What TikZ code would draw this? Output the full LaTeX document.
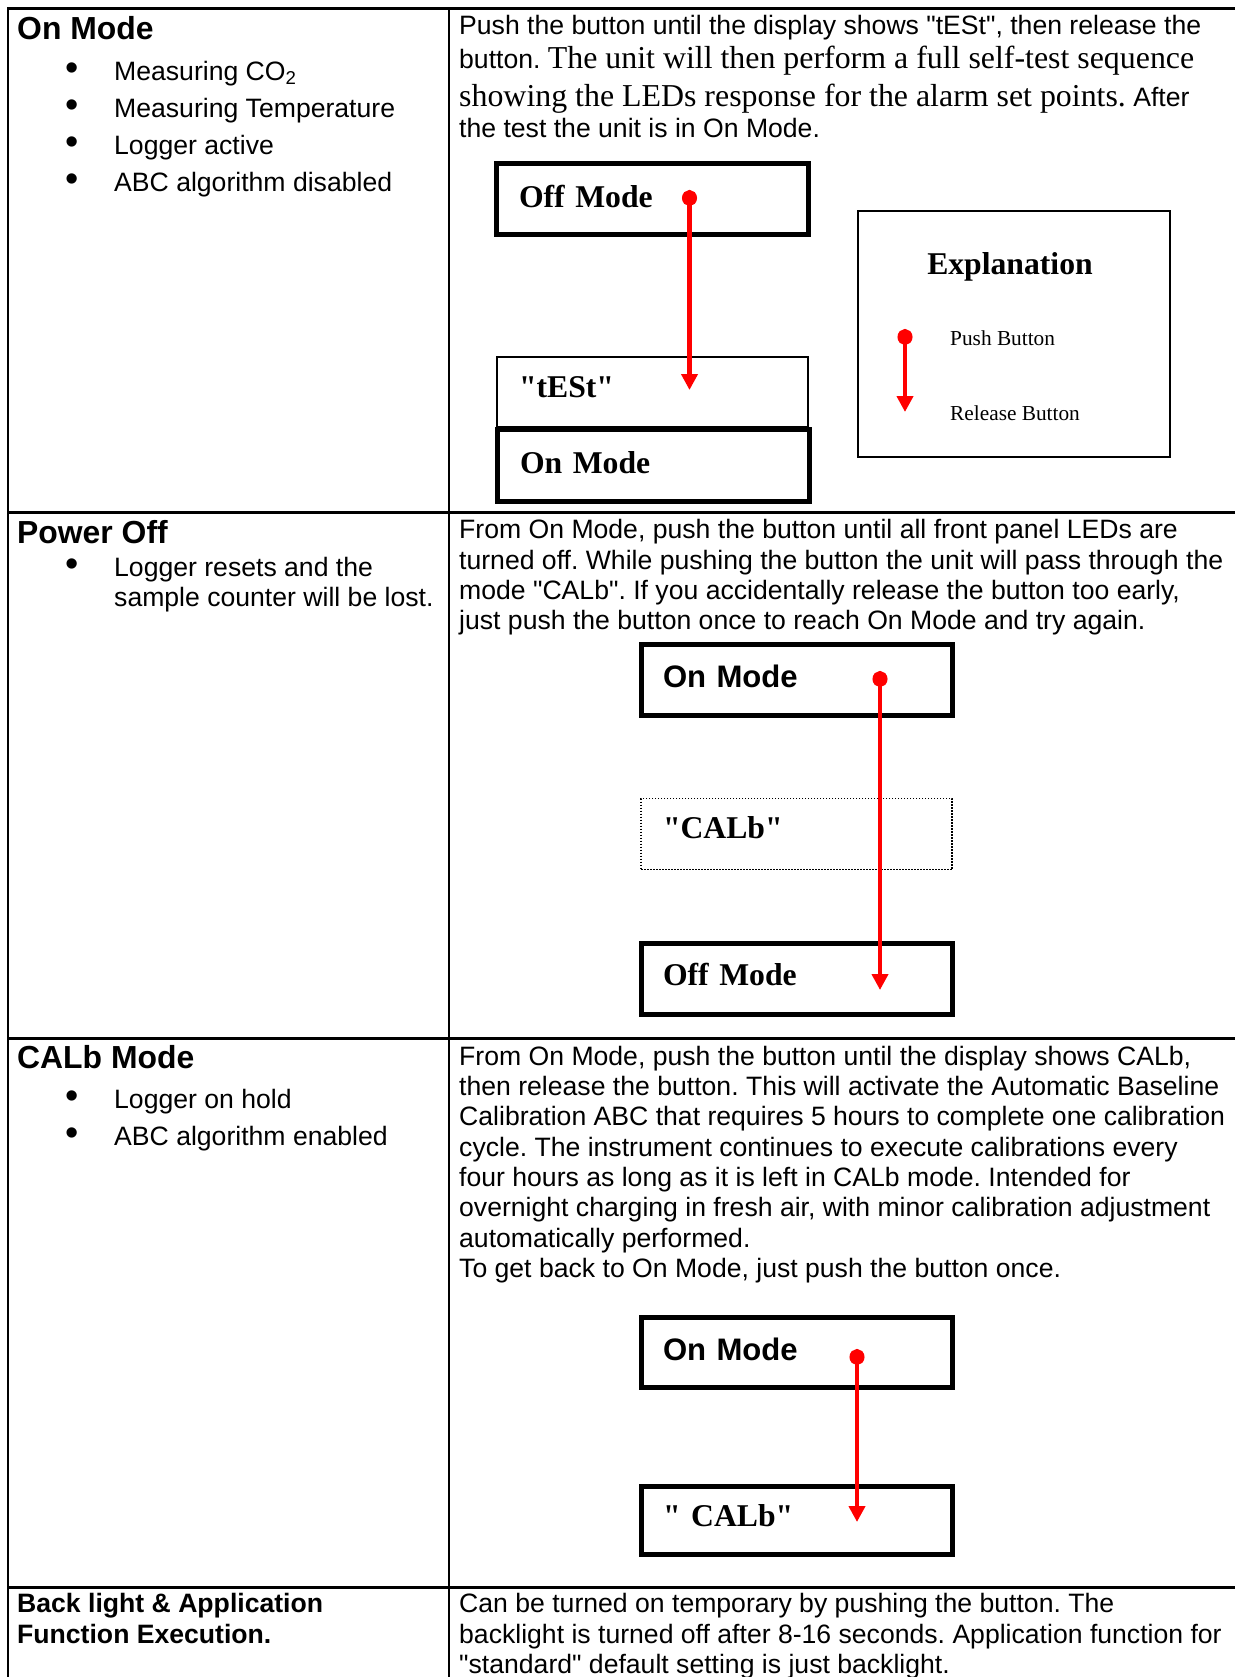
\documentclass[tikz,border=0pt]{standalone}
\usepackage{fontspec}
\setmainfont{Liberation Serif}[Ligatures=TeXOff]
\setsansfont{Liberation Sans}[Ligatures=TeXOff]
\usetikzlibrary{arrows.meta}
\frenchspacing

\begin{document}
\begin{tikzpicture}[line join=miter,
  grid/.style={black,line width=2bp},
  rowline/.style={black,line width=3bp},
  txt/.style={inner sep=0pt,anchor=base west,align=left,font=\sffamily\fontsize{26.7}{30.4}\selectfont},
  list/.style={txt,font=\sffamily\fontsize{26.7}{37.2}\selectfont},
  head/.style={inner sep=0pt,anchor=base west,font=\sffamily\bfseries\fontsize{32}{36}\selectfont},
  bul/.style={inner sep=0pt,anchor=base,align=center,font=\sffamily\fontsize{38}{37.2}\selectfont},
  modebox/.style={draw,line width=5bp,minimum width=311bp,minimum height=71bp,inner xsep=22bp,text width=267bp,align=left,text height=22bp,text depth=6bp},
  dispbox/.style={modebox,line width=2bp},
  calbbox/.style={modebox,line width=1.5bp,dash pattern=on 1.5bp off 1.5bp},
  serif/.style={font=\rmfamily\bfseries\fontsize{31.8}{36}\selectfont},
  sans/.style={font=\sffamily\bfseries\fontsize{31.2}{36}\selectfont},
  note/.style={inner sep=0pt,anchor=base west,font=\rmfamily\fontsize{21.4}{24}\selectfont},
  btn/.style={draw=red,line width=4.5bp,{Circle[length=16bp,width=15bp]}-{Triangle[length=16bp,width=16bp]}},
]
\path[use as bounding box,fill=white] (0bp,0bp) rectangle (1235bp,-1677bp);
%% table
\draw[grid] (8bp,-8bp) -- (8bp,-1677bp);
\draw[grid] (449bp,-8bp) -- (449bp,-1677bp);
\draw[rowline] (7bp,-8bp) -- (1235bp,-8bp);
\draw[rowline] (8bp,-512bp) -- (1235bp,-512bp);
\draw[rowline] (8bp,-1038bp) -- (1235bp,-1038bp);
\draw[rowline] (8bp,-1587bp) -- (1235bp,-1587bp);
%% on mode
\node[head] (head_on) at (17bp,-39.3bp) {On Mode};
\node[bul] (bul_on) at (72bp,-191.6bp) {\textbullet\\\textbullet\\\textbullet\\\textbullet};
\node[list] (list_on) at (114bp,-191.6bp) {Measuring CO\textsubscript{2}\\Measuring Temperature\\Logger active\\ABC algorithm disabled};
\node[txt] (txt_on1) at (459bp,-34bp) {Push the button until the display shows "tESt", then release the};
\node[txt] (txt_on2) at (459bp,-68.3bp) {button. {\rmfamily\fontsize{32}{36}\selectfont The unit will then perform a full self-test sequence}};
\node[txt] (txt_on3) at (459bp,-106bp) {{\rmfamily\fontsize{32}{36}\selectfont showing the LEDs response for the alarm set points.} After};
\node[txt] (txt_on4) at (459bp,-137.3bp) {the test the unit is in On Mode.};
\node[modebox,serif,minimum width=312bp] (off_a) at (652.5bp,-199bp) {Off Mode};
\node[dispbox,serif,minimum width=311bp,minimum height=70bp,text depth=12bp] (test_a) at (652.5bp,-392bp) {"tESt"};
\node[modebox,serif,minimum width=312bp,minimum height=72bp] (on_a) at (653.5bp,-465.5bp) {On Mode};
\coordinate (push_a) at (689.5bp,-190bp);
\coordinate (rel_a) at (689.5bp,-390bp);
\draw[btn] (push_a) -- (rel_a);
\node[dispbox,minimum width=312bp,minimum height=246bp] (legend) at (1014bp,-334bp) {};
\node[inner sep=0pt,anchor=base,font=\rmfamily\bfseries\fontsize{31.8}{36}\selectfont] (legend_title) at (1010bp,-274bp) {Explanation};
\node[note] (push_lbl) at (950bp,-345bp) {Push Button};
\node[note] (rel_lbl) at (950bp,-420.7bp) {Release Button};
\coordinate (push_l) at (905bp,-329bp);
\coordinate (rel_l) at (905bp,-412bp);
\draw[btn] (push_l) -- (rel_l);
%% power off
\node[head] (head_off) at (17bp,-543bp) {Power Off};
\node[bul] (bul_off) at (72bp,-576.5bp) {\textbullet};
\node[txt] (list_off) at (114bp,-606.9bp) {Logger resets and the\\sample counter will be lost.};
\node[txt] (txt_off) at (459bp,-629.8bp) {From On Mode, push the button until all front panel LEDs are\\turned off. While pushing the button the unit will pass through the\\mode "CALb". If you accidentally release the button too early,\\just push the button once to reach On Mode and try again.};
\node[modebox,sans,text depth=8bp] (on_b) at (796.5bp,-680bp) {On Mode};
\node[calbbox,serif,text depth=14bp] (calb_b) at (796.5bp,-834bp) {"CALb"};
\node[modebox,serif,text depth=10bp] (off_b) at (796.5bp,-979bp) {Off Mode};
\coordinate (push_b) at (880bp,-671bp);
\coordinate (rel_b) at (880bp,-990bp);
\draw[btn] (push_b) -- (rel_b);
%% calb mode
\node[head] (head_calb) at (17bp,-1068bp) {CALb Mode};
\node[bul] (bul_calb) at (72bp,-1145.8bp) {\textbullet\\\textbullet};
\node[list] (list_calb) at (114bp,-1145.8bp) {Logger on hold\\ABC algorithm enabled};
\node[txt] (txt_calb) at (459bp,-1277.3bp) {From On Mode, push the button until the display shows CALb,\\then release the button. This will activate the Automatic Baseline\\Calibration ABC that requires 5 hours to complete one calibration\\cycle. The instrument continues to execute calibrations every\\four hours as long as it is left in CALb mode. Intended for\\overnight charging in fresh air, with minor calibration adjustment\\automatically performed.\\To get back to On Mode, just push the button once.};
\node[modebox,sans,minimum height=70bp] (on_c) at (796.5bp,-1352.5bp) {On Mode};
\node[modebox,serif,minimum height=68bp,text depth=10bp] (calb_c) at (796.5bp,-1520.5bp) {" CALb"};
\coordinate (push_c) at (857bp,-1349bp);
\coordinate (rel_c) at (857bp,-1522bp);
\draw[btn] (push_c) -- (rel_c);
%% back light
\node[txt,font=\sffamily\bfseries\fontsize{26.7}{30.4}\selectfont] (head_light) at (17bp,-1643.1bp) {Back light \& Application\\Function Execution.};
\node[txt] (txt_light) at (459bp,-1673.5bp) {Can be turned on temporary by pushing the button. The\\backlight is turned off after 8-16 seconds. Application function for\\"standard" default setting is just backlight.};
%
\end{tikzpicture}
\end{document}
